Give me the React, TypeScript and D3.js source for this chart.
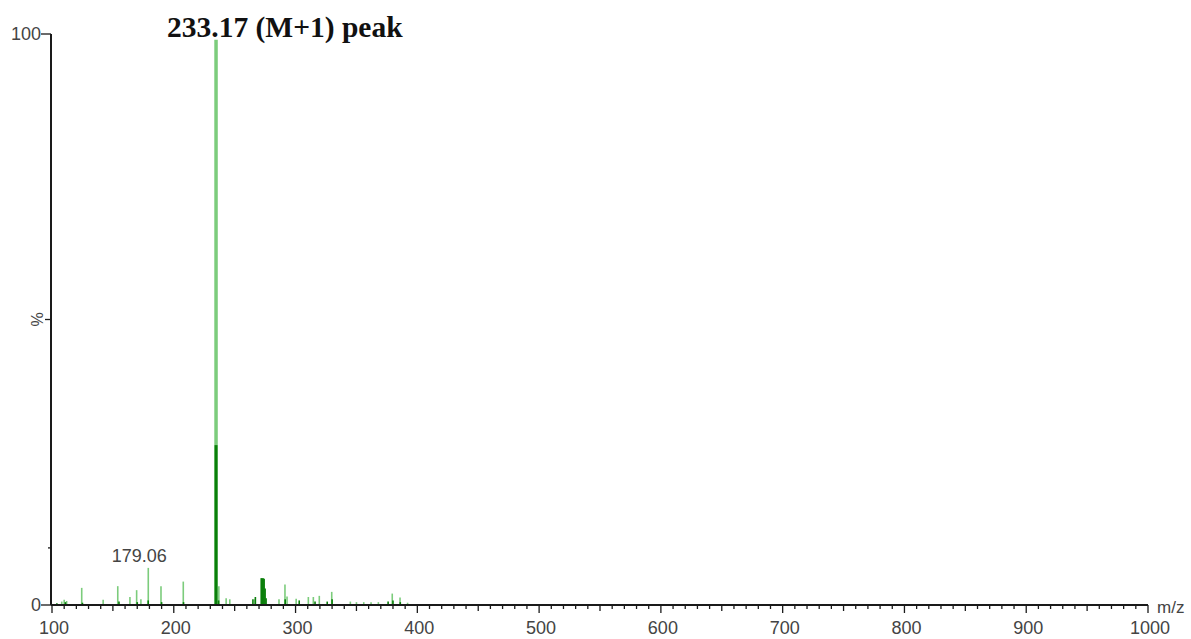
import React from "react";
import * as d3 from "d3";

// m/z values and relative intensities (%)
const lightMz = [108, 110, 112, 124.4, 142, 154, 164, 169.5, 173, 179.06, 189.5, 207.8, 234.7, 237, 243, 246, 266.7, 286.4, 291.3, 293, 300.5, 310.5, 314.6, 319.5, 329.7, 345, 350, 356, 362, 368, 379.4, 385.8, 392];
const lightPct = [0.6, 0.9, 0.7, 3.0, 0.9, 3.3, 1.4, 2.6, 1.0, 6.5, 3.3, 4.1, 99, 3.3, 1.2, 1.0, 1.0, 1.0, 3.6, 1.5, 1.1, 1.4, 1.4, 1.6, 2.3, 0.6, 0.5, 0.5, 0.5, 0.5, 2.0, 1.3, 0.4];

const darkMz = [104, 111, 125, 155, 170, 179, 190, 208, 234.7, 236.8, 265, 267, 271.8, 272.6, 273.4, 274.2, 275.0, 275.8, 291.5, 303, 316, 326, 330, 376, 380, 386];
const darkPct = [0.3, 0.5, 0.4, 0.6, 0.5, 0.8, 0.5, 0.5, 28, 0.8, 1.0, 1.4, 4.7, 4.7, 4.7, 4.6, 2.9, 1.2, 1.0, 0.8, 0.6, 0.6, 1.0, 0.6, 0.8, 0.5];

const xTicksMajor = [100, 200, 300, 400, 500, 600, 700, 800, 900, 1000];
const yTickLabels = [0, 100];

const titleText = "233.17 (M+1) peak";
const peakLabel = "179.06";
const peakLabelMz = 179.06;

export default function App() {
  const W = 1191, H = 639;
  const x = d3.scaleLinear().domain([100, 1000]).range([52, 1148]);
  const y = d3.scaleLinear().domain([0, 100]).range([605, 34]);
  const minor = d3.range(100, 1001, 10);
  const axisColor = "#1a1a1a";
  const labelColor = "#444";
  const sans = "'Liberation Sans', Arial, sans-serif";
  const ax = x(100) - 1;

  return (
    <svg width={W} height={H} style={{ position: "absolute", left: 0, top: 0, background: "#fff" }}>
      <rect width={W} height={H} fill="#fff" />
      {/* peaks */}
      {lightMz.map((m, i) => (
        <line key={"l" + i} x1={x(m)} x2={x(m)} y1={y(0)} y2={y(lightPct[i])}
          stroke="#7ccc7c" strokeWidth={lightPct[i] > 50 ? 3.5 : 1.6} />
      ))}
      {darkMz.map((m, i) => (
        <line key={"d" + i} x1={x(m)} x2={x(m)} y1={y(0)} y2={y(darkPct[i])}
          stroke="#0a7f0a" strokeWidth={darkPct[i] > 20 ? 3 : 1.6} />
      ))}
      {/* x axis */}
      <line x1={ax} x2={x(1000)} y1={y(0)} y2={y(0)} stroke={axisColor} strokeWidth={2} />
      {minor.map((v) => {
        const len = v % 100 === 0 ? 8 : v % 50 === 0 ? 6 : 4;
        return <line key={"t" + v} x1={x(v)} x2={x(v)} y1={y(0)} y2={y(0) + len} stroke={axisColor} strokeWidth={1.3} />;
      })}
      {xTicksMajor.map((v) => (
        <text key={"xl" + v} x={x(v) + 2} y={634} textAnchor="middle" fontFamily={sans} fontSize={18} fill={labelColor}>{v}</text>
      ))}
      <text x={1157} y={613} fontFamily={sans} fontSize={17} fill={labelColor}>m/z</text>
      {/* y axis */}
      <line x1={ax} x2={ax} y1={y(100)} y2={y(0)} stroke={axisColor} strokeWidth={2} />
      {yTickLabels.map((v) => (
        <g key={"yt" + v}>
          <line x1={ax - 10} x2={ax} y1={y(v)} y2={y(v)} stroke={axisColor} strokeWidth={1.3} />
          <text x={ax - 10} y={y(v) + 6} textAnchor="end" fontFamily={sans} fontSize={18} fill={labelColor}>{v}</text>
        </g>
      ))}
      <line x1={ax - 6} x2={ax} y1={y(50)} y2={y(50)} stroke={axisColor} strokeWidth={1.3} />
      <line x1={ax - 3} x2={ax} y1={y(10)} y2={y(10)} stroke={axisColor} strokeWidth={1.3} />
      <text transform={`translate(${37},${y(50)}) rotate(-90)`} textAnchor="middle" dy="0.35em" fontFamily={sans} fontSize={16} fill={labelColor}>%</text>
      {/* annotations */}
      <text x={x(peakLabelMz) - 9} y={562} textAnchor="middle" fontFamily={sans} fontSize={18} fill={labelColor}>{peakLabel}</text>
      <text x={167} y={37} fontFamily="'Liberation Serif', 'Times New Roman', serif" fontWeight="bold" fontSize={29.5} fill="#111">{titleText}</text>
    </svg>
  );
}
